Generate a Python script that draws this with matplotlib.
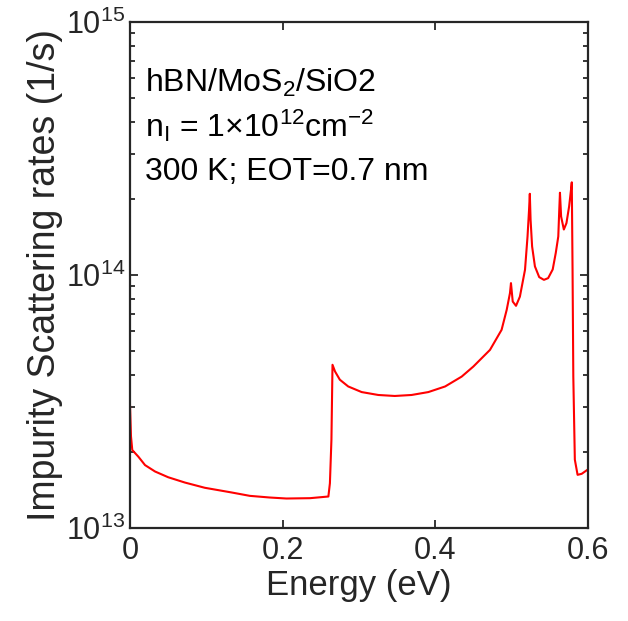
import numpy as np
import matplotlib
matplotlib.use("Agg")
import matplotlib.pyplot as plt
from matplotlib.ticker import LogLocator, NullFormatter, FixedLocator, FuncFormatter

plt.rcParams['font.family'] = ['Liberation Sans', 'DejaVu Sans']
plt.rcParams['mathtext.fontset'] = 'custom'
plt.rcParams['mathtext.rm'] = 'Liberation Sans'
plt.rcParams['mathtext.it'] = 'Liberation Sans'

energy = [0.0, 0.0013, 0.003, 0.011, 0.0197, 0.0328, 0.050, 0.072, 0.098, 0.133,
          0.157, 0.183, 0.205, 0.236, 0.260, 0.262, 0.264, 0.2654, 0.2687, 0.275,
          0.286, 0.3036, 0.3254, 0.347, 0.369, 0.391, 0.413, 0.4347, 0.450, 0.4718,
          0.487, 0.4937, 0.498, 0.4993, 0.5016, 0.5059, 0.511, 0.5177, 0.521, 0.523,
          0.524, 0.525, 0.527, 0.5307, 0.5363, 0.5425, 0.548, 0.554, 0.558, 0.5613,
          0.5626, 0.5635, 0.565, 0.5686, 0.572, 0.5755, 0.578, 0.579, 0.580, 0.581,
          0.583, 0.5866, 0.592, 0.6]
rate = [3.06e13, 2.30e13, 2.03e13, 1.91e13, 1.77e13, 1.67e13, 1.585e13, 1.51e13, 1.44e13, 1.38e13,
        1.338e13, 1.318e13, 1.306e13, 1.31e13, 1.33e13, 1.5e13, 2.23e13, 4.41e13, 4.15e13, 3.85e13,
        3.62e13, 3.44e13, 3.35e13, 3.32e13, 3.35e13, 3.44e13, 3.62e13, 3.96e13, 4.34e13, 5.05e13,
        6.06e13, 7.27e13, 8.47e13, 9.27e13, 7.84e13, 7.54e13, 8.2e13, 1.047e14, 1.417e14, 1.807e14,
        2.09e14, 1.65e14, 1.294e14, 1.079e14, 9.79e13, 9.55e13, 9.7e13, 1.05e14, 1.22e14, 1.417e14,
        1.807e14, 2.11e14, 1.70e14, 1.51e14, 1.6e14, 1.862e14, 2.17e14, 2.32e14, 1.05e14, 3.96e13,
        1.86e13, 1.62e13, 1.635e13, 1.70e13]

xticks = [0, 0.2, 0.4, 0.6]
xticklabels = ['0', '0.2', '0.4', '0.6']
yticks = [1e13, 1e14, 1e15]

fig = plt.figure(figsize=(6.28, 6.21), dpi=100)
ax = fig.add_axes([0.207, 0.150, 0.729, 0.815])
ax.plot(energy, rate, color='#ff0000', lw=1.5)
ax.set_yscale('log')
ax.set_xlim(0, 0.6)
ax.set_ylim(1e13, 1e15)
ax.set_xticks(xticks)
ax.set_xticklabels(xticklabels)
ax.yaxis.set_major_locator(FixedLocator(yticks))
ax.yaxis.set_major_formatter(FuncFormatter(
    lambda v, p: r'$\mathregular{10^{%d}}$' % int(round(np.log10(v)))))
ax.yaxis.set_minor_locator(LogLocator(base=10, subs=np.arange(2, 10)))
ax.yaxis.set_minor_formatter(NullFormatter())
ax.tick_params(which='both', direction='in', top=True, right=True, colors='#262626',
               labelsize=22, width=1.3)
ax.tick_params(which='major', length=6)
ax.tick_params(which='minor', length=3.5)
ax.tick_params(axis='x', pad=6)
for s in ax.spines.values():
    s.set_linewidth(1.6)
    s.set_color('#262626')
ax.set_xlabel('Energy (eV)', fontsize=25, color='#262626', labelpad=2)
ax.set_ylabel('Impurity Scattering rates (1/s)', fontsize=27, color='#262626', labelpad=2)

tkw = dict(transform=ax.transAxes, fontsize=23, color='black', ha='left', va='baseline')
ax.text(0.033, 0.862, r'hBN/MoS$_2$/SiO2', **tkw)
ax.text(0.033, 0.773, r'n$_\mathrm{I}$ = 1$\times$10$^{12}$cm$^{-2}$', **tkw)
ax.text(0.033, 0.688, '300 K; EOT=0.7 nm', **tkw)

fig.savefig('out.png', dpi=100)
